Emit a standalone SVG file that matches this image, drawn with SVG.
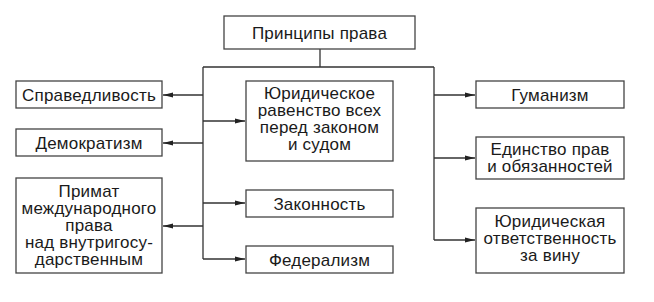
<svg xmlns="http://www.w3.org/2000/svg" width="654" height="302" viewBox="0 0 654 302">
<style>
.box{fill:#fff;stroke:#444;stroke-width:1.3}
.t{font-family:"Liberation Sans",Arial,sans-serif;font-size:17px;letter-spacing:0.2px;fill:#1a1a1a;text-anchor:middle}
.c{fill:none;stroke:#333;stroke-width:1.3}
</style>
<defs>
<marker id="ah" viewBox="0 0 10 6" refX="10" refY="3" markerWidth="10" markerHeight="6" markerUnits="userSpaceOnUse" orient="auto">
<path d="M0,0.5 L10,3 L0,5.5 Z" fill="#222"/>
</marker>
</defs>
<g id="connectors">
<path class="c" d="M320,49 V67 M203,67 H434 M203,67 V259 M434,67 V240"/>
<path class="c" marker-end="url(#ah)" d="M203,95 H163"/>
<path class="c" marker-end="url(#ah)" d="M203,143 H163"/>
<path class="c" marker-end="url(#ah)" d="M203,226 H163"/>
<path class="c" marker-end="url(#ah)" d="M203,121 H245"/>
<path class="c" marker-end="url(#ah)" d="M203,203 H245"/>
<path class="c" marker-end="url(#ah)" d="M203,259 H245"/>
<path class="c" marker-end="url(#ah)" d="M434,95 H475"/>
<path class="c" marker-end="url(#ah)" d="M434,158 H475"/>
<path class="c" marker-end="url(#ah)" d="M434,240 H475"/>
</g>
<g id="root">
<rect class="box" x="224" y="16" width="191" height="33"/>
<text class="t" x="319.5" y="38.5">Принципы права</text>
</g>
<g id="spravedlivost">
<rect class="box" x="16" y="81" width="146" height="27"/>
<text class="t" x="89" y="100.5">Справедливость</text>
</g>
<g id="demokratizm">
<rect class="box" x="16" y="129" width="146" height="27"/>
<text class="t" x="89" y="148.5">Демократизм</text>
</g>
<g id="primat">
<rect class="box" x="16" y="178" width="146" height="95"/>
<text class="t" x="89" y="197">Примат</text>
<text class="t" x="89" y="214">международного</text>
<text class="t" x="89" y="231">права</text>
<text class="t" x="89" y="248">над внутригосу-</text>
<text class="t" x="89" y="265">дарственным</text>
</g>
<g id="ravenstvo">
<rect class="box" x="246" y="81" width="147" height="80"/>
<text class="t" x="319.5" y="99">Юридическое</text>
<text class="t" x="319.5" y="116">равенство всех</text>
<text class="t" x="319.5" y="133">перед законом</text>
<text class="t" x="319.5" y="150">и судом</text>
</g>
<g id="zakonnost">
<rect class="box" x="246" y="190" width="147" height="27"/>
<text class="t" x="319.5" y="209.5">Законность</text>
</g>
<g id="federalizm">
<rect class="box" x="246" y="246" width="147" height="27"/>
<text class="t" x="319.5" y="265.5">Федерализм</text>
</g>
<g id="gumanizm">
<rect class="box" x="476" y="81" width="148" height="27"/>
<text class="t" x="550" y="100.5">Гуманизм</text>
</g>
<g id="edinstvo">
<rect class="box" x="476" y="137" width="148" height="42"/>
<text class="t" x="550" y="155">Единство прав</text>
<text class="t" x="550" y="172">и обязанностей</text>
</g>
<g id="otvetstvennost">
<rect class="box" x="476" y="208" width="148" height="65"/>
<text class="t" x="550" y="227">Юридическая</text>
<text class="t" x="550" y="244">ответственность</text>
<text class="t" x="550" y="261">за вину</text>
</g>
</svg>
